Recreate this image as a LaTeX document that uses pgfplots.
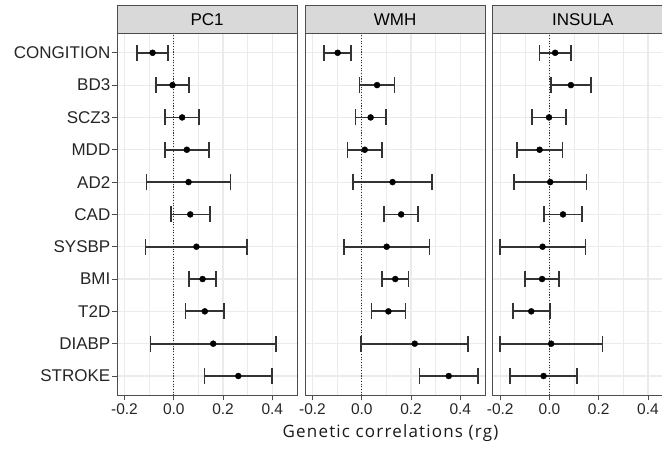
\documentclass[border=0pt]{standalone}
\usepackage{fontspec}
\setmainfont{Liberation Sans}
\newfontfamily\titlefont[LetterSpace=7]{Open Sans}
\usepackage{pgfplots}
\usepackage{pgfplotstable}
\pgfplotsset{compat=1.18}

\definecolor{stripfill}{HTML}{D9D9D9}
\definecolor{panelframe}{HTML}{4D4D4D}
\definecolor{gridcol}{HTML}{EBEBEB}
\definecolor{barcol}{HTML}{333333}

% pos: 11 = CONGITION ... 1 = STROKE; err = half width of the interval
\pgfplotstableread{
pos est err
11 -0.086 0.063
10 -0.005 0.068
9  0.034 0.069
8  0.053 0.089
7  0.060 0.171
6  0.067 0.079
5  0.092 0.206
4  0.117 0.055
3  0.126 0.079
2  0.160 0.255
1  0.262 0.138
}\pcone

\pgfplotstableread{
pos est err
11 -0.098 0.055
10 0.062 0.071
9  0.036 0.062
8  0.012 0.070
7  0.125 0.160
6  0.160 0.069
5  0.101 0.174
4  0.136 0.053
3  0.108 0.069
2  0.215 0.217
1  0.353 0.119
}\wmh

\pgfplotstableread{
pos est err
11 0.023 0.064
10 0.087 0.081
9  -0.002 0.069
8  -0.040 0.093
7  0.003 0.147
6  0.055 0.077
5  -0.028 0.174
4  -0.030 0.069
3  -0.074 0.075
2  0.007 0.208
1  -0.024 0.136
}\insula

\pgfplotsset{
  facet/.style={
    scale only axis, width=180.3pt, height=362pt,
    anchor=south west,
    xmin=-0.2305, xmax=0.5015, ymin=0.4, ymax=11.6,
    xtick={-0.2,0,0.2,0.4}, xticklabels={-0.2,0.0,0.2,0.4},
    minor xtick={-0.1,0.1,0.3},
    ytick={1,...,11},
    grid=both,
    major grid style={gridcol, line width=1.1pt},
    minor grid style={gridcol, line width=0.55pt},
    axis line style={panelframe, line width=0.8pt},
    tick align=outside, major tick length=5pt, minor tick length=0pt,
    tick style={panelframe, line width=0.8pt},
    xtick pos=bottom, ytick pos=left,
    xticklabel style={font=\fontsize{15.5}{17}\selectfont, text=black!85, inner sep=3pt},
    yticklabel style={font=\fontsize{17}{19}\selectfont, text=black!85, inner sep=1.5pt},
    every axis title/.style={at={(0.5,1)}, anchor=south, fill=stripfill,
      draw=panelframe, line width=0.8pt, minimum width=180.3pt,
      minimum height=27.6pt, inner sep=0pt, font=\fontsize{17}{19}\selectfont},
  },
  zeroline/.style={black!80, line width=1pt, dash pattern=on 1.1pt off 1.6pt, forget plot},
  forest/.style={only marks, mark=*, mark size=3pt, mark options={fill=black, draw=black},
    error bars/.cd, x dir=both, x explicit,
    error bar style={draw=barcol, line width=1.8pt, solid},
    error mark options={draw=barcol, line width=1.6pt, mark size=8pt, rotate=90}},
}

\begin{document}
\begin{tikzpicture}
\begin{axis}[facet, at={(117pt,55.6pt)}, title={PC1},
  yticklabels={STROKE,DIABP,T2D,BMI,SYSBP,CAD,AD2,MDD,SCZ3,BD3,CONGITION}]
\addplot[zeroline] coordinates {(0,0.4) (0,11.6)};
\addplot[forest] table[x=est, y=pos, x error=err] {\pcone};
\end{axis}

\begin{axis}[facet, at={(305pt,55.6pt)}, title={WMH},
  yticklabels={}, ytick style={draw=none}]
\addplot[zeroline] coordinates {(0,0.4) (0,11.6)};
\addplot[forest] table[x=est, y=pos, x error=err] {\wmh};
\end{axis}

\begin{axis}[facet, at={(492.7pt,55.6pt)}, title={INSULA},
  yticklabels={}, ytick style={draw=none}]
\addplot[zeroline] coordinates {(0,0.4) (0,11.6)};
\addplot[forest] table[x=est, y=pos, x error=err] {\insula};
\end{axis}

\node[font=\titlefont\fontsize{17}{19}\selectfont, text=black!90] at (390.5pt,18pt) {Genetic correlations (rg)};

\pgfresetboundingbox
\path (0pt,0pt) rectangle (662pt,451pt);
\end{tikzpicture}
\end{document}
